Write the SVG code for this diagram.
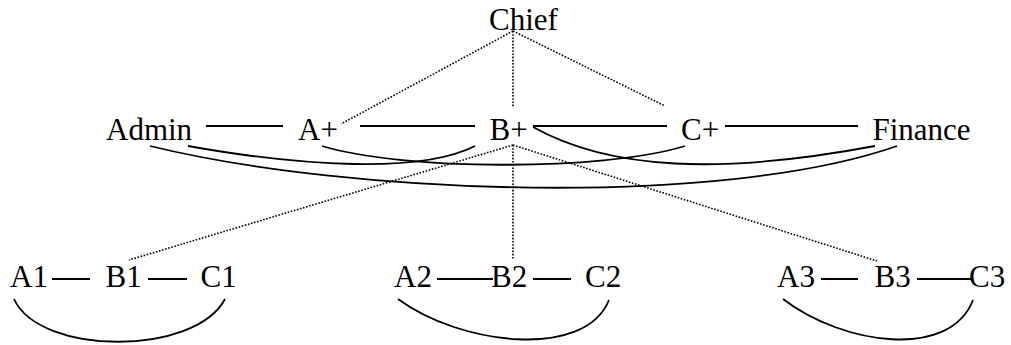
<svg xmlns="http://www.w3.org/2000/svg" width="1011" height="345" viewBox="0 0 1011 345">
<style>
text{font-family:"Liberation Serif","Times New Roman",serif;font-size:31px;fill:#000}
.s{fill:none;stroke:#000;stroke-width:1.8}
.d{fill:none;stroke:#000;stroke-width:1.6;stroke-dasharray:1.6 1.6}
</style>
<rect width="1011" height="345" fill="#fff"/>
<g id="connectors">
<path class="d" d="M513,31 L341,124"/>
<path class="d" d="M513,31 L513,107"/>
<path class="d" d="M513,31 L665,106"/>
<path class="d" d="M513,145 L129,260"/>
<path class="d" d="M513,145 L513,259"/>
<path class="d" d="M513,145 L877,261"/>
<path class="s" d="M206,126 L283,126"/>
<path class="s" d="M360,126 L475,126"/>
<path class="s" d="M533,126 L667,126"/>
<path class="s" d="M725,126 L858,126"/>
<path class="s" d="M188,146 C300,166 420,174 475,146"/>
<path class="s" d="M322,146 C400,170 600,172 685,146"/>
<path class="s" d="M533,127 C610,170 720,175 875,146"/>
<path class="s" d="M150,146 C350,195 720,208 897,146"/>
<path class="s" d="M52,279 L90,279"/>
<path class="s" d="M148,279 L187,279"/>
<path class="s" d="M437,279 L493,279"/>
<path class="s" d="M533,279 L571,279"/>
<path class="s" d="M821,279 L858,279"/>
<path class="s" d="M917,279 L972,279"/>
<path class="s" d="M14,299 C40,356 195,356 225,299"/>
<path class="s" d="M398,299 C460,345 585,360 609,300"/>
<path class="s" d="M783,299 C843,345 950,360 973,300"/>
</g>
<g id="chief"><text x="489" y="30">Chief</text></g>
<g id="admin"><text x="106" y="140">Admin</text></g>
<g id="aplus"><text x="298" y="140">A+</text></g>
<g id="bplus"><text x="489.5" y="140">B+</text></g>
<g id="cplus"><text x="681" y="140">C+</text></g>
<g id="finance"><text x="872.5" y="140">Finance</text></g>
<g id="a1"><text x="10" y="287">A1</text></g>
<g id="b1"><text x="105.5" y="287">B1</text></g>
<g id="c1"><text x="200.5" y="287">C1</text></g>
<g id="a2"><text x="394" y="287">A2</text></g>
<g id="b2"><text x="491" y="287">B2</text></g>
<g id="c2"><text x="585" y="287">C2</text></g>
<g id="a3"><text x="777" y="287">A3</text></g>
<g id="b3"><text x="874.5" y="287">B3</text></g>
<g id="c3"><text x="969" y="287">C3</text></g>
</svg>
